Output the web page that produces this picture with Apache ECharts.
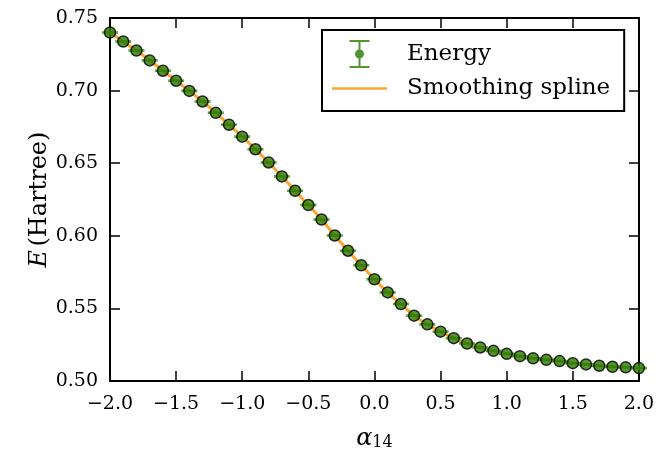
<!DOCTYPE html>
<html>
<head>
<meta charset="utf-8">
<script src="https://cdn.jsdelivr.net/npm/echarts@6/dist/echarts.min.js"></script>
<style>
  html, body { margin: 0; padding: 0; background: #fff; }
  #chart { width: 657px; height: 456px; }
</style>
</head>
<body>
<div id="chart"></div>
<script>
// alpha_14 values, step 0.1
var alpha = [-2.0, -1.9, -1.8, -1.7, -1.6, -1.5, -1.4, -1.3, -1.2, -1.1,
             -1.0, -0.9, -0.8, -0.7, -0.6, -0.5, -0.4, -0.3, -0.2, -0.1,
              0.0,  0.1,  0.2,  0.3,  0.4,  0.5,  0.6,  0.7,  0.8,  0.9,
              1.0,  1.1,  1.2,  1.3,  1.4,  1.5,  1.6,  1.7,  1.8,  1.9, 2.0];
// energy (Hartree)
var energy = [0.7400, 0.7338, 0.7276, 0.7208, 0.7137, 0.7068, 0.6998, 0.6925, 0.6847, 0.6765,
              0.6683, 0.6596, 0.6505, 0.6409, 0.6310, 0.6212, 0.6112, 0.6002, 0.5897, 0.5797,
              0.5701, 0.5610, 0.5530, 0.5450, 0.5390, 0.5340, 0.5295, 0.5258, 0.5231, 0.5208,
              0.5187, 0.5171, 0.5156, 0.5146, 0.5137, 0.5123, 0.5114, 0.5105, 0.5098, 0.5094, 0.5089];
// error estimate (tiny)
var energyErr = [0.0004, 0.0004, 0.0004, 0.0004, 0.0004, 0.0004, 0.0004, 0.0004, 0.0004, 0.0004,
                 0.0004, 0.0004, 0.0004, 0.0004, 0.0004, 0.0004, 0.0004, 0.0004, 0.0004, 0.0004,
                 0.0004, 0.0004, 0.0004, 0.0004, 0.0004, 0.0004, 0.0004, 0.0004, 0.0004, 0.0004,
                 0.0004, 0.0004, 0.0004, 0.0004, 0.0004, 0.0004, 0.0004, 0.0004, 0.0004, 0.0004, 0.0004];
// smoothing spline evaluated at same points
var spline = energy.slice();

var SERIF = '"DejaVu Serif", "Liberation Serif", serif';
var GREEN = '#2c7800';
var BAR_GREEN = '#5ba52c';
var ORANGE = '#ffa431';

function pairs(xs, ys) {
  var out = [];
  for (var i = 0; i < xs.length; i++) out.push([xs[i], ys[i]]);
  return out;
}
function minus(v, d) {
  var s = Math.abs(v).toFixed(d);
  return v < -1e-9 ? '\u2212' + s : s;
}

var errData = [];
for (var i = 0; i < alpha.length; i++) errData.push([alpha[i], energy[i], energyErr[i]]);

var tickStyle = { show: true, inside: true, length: 10, lineStyle: { color: '#000', width: 1.5 } };
var lineStyle = { show: true, onZero: false, lineStyle: { color: '#000', width: 2 } };

var chart = echarts.init(document.getElementById('chart'));
chart.setOption({
  animation: false,
  grid: { left: 110, right: 16, top: 18, bottom: 73 },
  legend: {
    orient: 'vertical',
    left: 322, top: 30,
    padding: [10, 14, 11, 10],
    itemGap: 9,
    itemWidth: 55, itemHeight: 28,
    borderColor: '#000', borderWidth: 2,
    formatter: '{t|{name}}',
    textStyle: {
      rich: { t: { fontFamily: SERIF, fontSize: 23, color: '#000', padding: [0, 0, 0, 15] } }
    },
    data: [
      { name: 'Energy',
        icon: 'path://M0,0H20V2H0ZM9,2H11V12.5H9ZM10,9.5A4.5,4.5 0 1,1 9.99,9.5ZM9,18.5H11V26H9ZM0,26H20V28H0Z',
        itemStyle: { color: GREEN, borderWidth: 0 } },
      { name: 'Smoothing spline',
        icon: 'path://M0,0H55V2.5H0Z',
        itemStyle: { color: ORANGE, borderWidth: 0 } }
    ]
  },
  xAxis: [{
    type: 'value', min: -2, max: 2, interval: 0.5,
    name: '{a|\u03b1}{s|14}', nameLocation: 'middle', nameGap: 46,
    nameTextStyle: { rich: {
      a: { fontFamily: SERIF, fontStyle: 'italic', fontSize: 24, color: '#000' },
      s: { fontFamily: SERIF, fontSize: 16, color: '#000', verticalAlign: 'bottom', padding: [8, 0, 0, 0] }
    } },
    axisLine: lineStyle, axisTick: tickStyle, splitLine: { show: false },
    axisLabel: { fontFamily: SERIF, fontSize: 19, color: '#000', margin: 14,
      formatter: function (v) { return minus(v, 1); } }
  }, {
    type: 'value', min: -2, max: 2, interval: 0.5, position: 'top',
    axisLine: lineStyle, axisTick: tickStyle, splitLine: { show: false },
    axisLabel: { show: false }
  }],
  yAxis: [{
    type: 'value', min: 0.5, max: 0.75, interval: 0.05,
    name: '{e|E} {h|(Hartree)}', nameLocation: 'middle', nameGap: 58, nameRotate: 90,
    nameMoveOverlap: false,
    nameTextStyle: { rich: {
      e: { fontFamily: SERIF, fontStyle: 'italic', fontSize: 24, color: '#000' },
      h: { fontFamily: SERIF, fontSize: 24, color: '#000' }
    } },
    axisLine: lineStyle, axisTick: tickStyle, splitLine: { show: false },
    axisLabel: { fontFamily: SERIF, fontSize: 19, color: '#000', margin: 12,
      formatter: function (v) { return v.toFixed(2); } }
  }, {
    type: 'value', min: 0.5, max: 0.75, interval: 0.05, position: 'right',
    axisLine: lineStyle, axisTick: tickStyle, splitLine: { show: false },
    axisLabel: { show: false }
  }],
  series: [{
    name: 'Smoothing spline',
    type: 'line',
    data: pairs(alpha, spline),
    smooth: true,
    showSymbol: false,
    color: ORANGE,
    lineStyle: { color: ORANGE, width: 3 },
    z: 2
  }, {
    type: 'custom',
    data: errData,
    z: 3,
    silent: true,
    renderItem: function (params, api) {
      var x = api.value(0), y = api.value(1), e = api.value(2);
      var p1 = api.coord([x, y + e]);
      var p2 = api.coord([x, y - e]);
      var st = { stroke: BAR_GREEN, lineWidth: 1.5 };
      return { type: 'group', children: [
        { type: 'line', shape: { x1: p1[0], y1: p1[1], x2: p2[0], y2: p2[1] }, style: st },
        { type: 'line', shape: { x1: p1[0] - 8, y1: p1[1], x2: p1[0] + 8, y2: p1[1] }, style: st },
        { type: 'line', shape: { x1: p2[0] - 8, y1: p2[1], x2: p2[0] + 8, y2: p2[1] }, style: st }
      ] };
    }
  }, {
    name: 'Energy',
    type: 'scatter',
    data: pairs(alpha, energy),
    symbol: 'circle',
    symbolSize: 11,
    color: GREEN,
    itemStyle: { color: GREEN, borderColor: '#000', borderWidth: 1.5 },
    z: 4
  }]
});
</script>
</body>
</html>
